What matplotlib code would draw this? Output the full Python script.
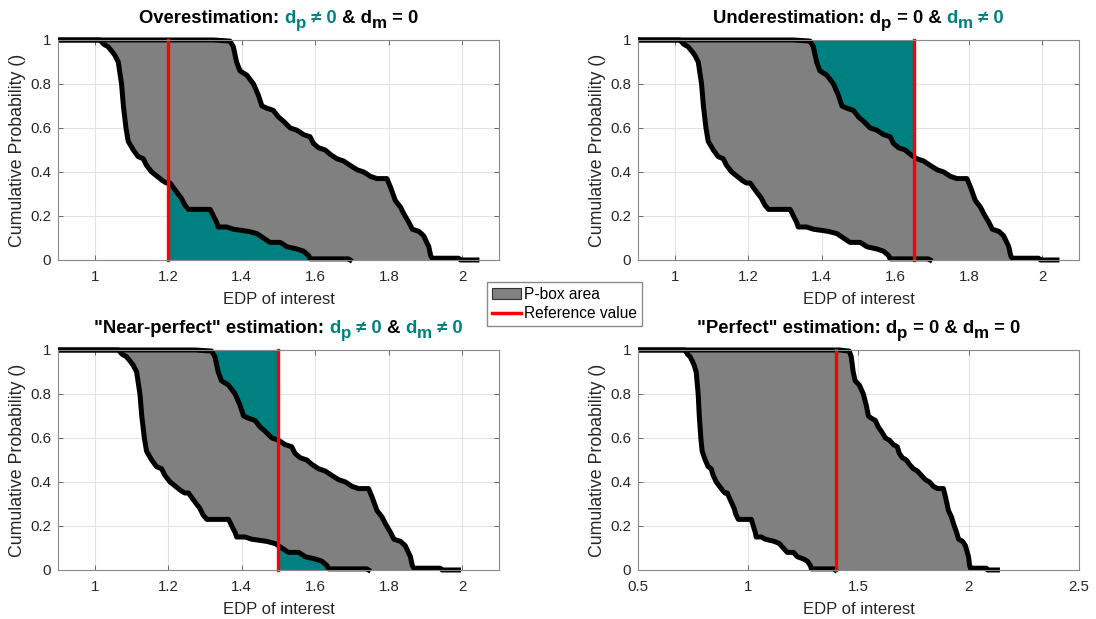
import matplotlib
matplotlib.use('Agg')
import matplotlib.pyplot as plt
from matplotlib.patches import Patch, Rectangle
from matplotlib.lines import Line2D
from matplotlib.ticker import FormatStrFormatter
import numpy as np

plt.rcParams['font.family'] = ['Liberation Sans', 'DejaVu Sans']

# P-box bounds (complementary CDFs)
left_x = [0.0, 1.014, 1.025, 1.036, 1.046, 1.055, 1.064, 1.073, 1.078, 1.085, 1.091,
          1.105, 1.118, 1.132, 1.141, 1.155, 1.170, 1.185, 1.195, 1.205, 1.218, 1.236,
          1.245, 1.255, 1.314, 1.323, 1.332, 1.336, 1.359, 1.377, 1.418, 1.441, 1.459,
          1.477, 1.505, 1.523, 1.550, 1.568, 1.582, 1.586, 1.690, 1.695]
left_y = [1.0, 1.0, 0.98, 0.97, 0.95, 0.93, 0.90, 0.80, 0.70, 0.60, 0.54,
          0.50, 0.47, 0.46, 0.43, 0.40, 0.38, 0.36, 0.35, 0.35, 0.32, 0.28,
          0.25, 0.23, 0.23, 0.20, 0.17, 0.15, 0.15, 0.14, 0.13, 0.12, 0.10,
          0.08, 0.08, 0.06, 0.05, 0.04, 0.02, 0.005, 0.005, 0.0]
right_x = [0.0, 1.323, 1.368, 1.377, 1.386, 1.395, 1.414, 1.432, 1.445, 1.455, 1.468,
           1.486, 1.500, 1.514, 1.532, 1.550, 1.568, 1.586, 1.595, 1.609, 1.627, 1.641,
           1.659, 1.677, 1.695, 1.714, 1.732, 1.750, 1.768, 1.795, 1.805, 1.818, 1.832,
           1.841, 1.855, 1.864, 1.882, 1.895, 1.909, 1.914, 1.918, 1.990, 1.995, 2.040]
right_y = [1.0, 1.0, 0.995, 0.97, 0.90, 0.86, 0.84, 0.80, 0.75, 0.70, 0.69,
           0.68, 0.65, 0.63, 0.60, 0.59, 0.57, 0.56, 0.53, 0.51, 0.50, 0.48,
           0.46, 0.45, 0.43, 0.41, 0.40, 0.38, 0.37, 0.37, 0.33, 0.27, 0.24,
           0.21, 0.17, 0.14, 0.13, 0.11, 0.06, 0.02, 0.008, 0.008, 0.0, 0.0]

# per panel: shift of each bound, reference value, axis range
left_shift = [0.0, 0.0, 0.05, -0.30]
right_shift = [0.0, 0.0, -0.05, 0.09]
ref_value = [1.20, 1.65, 1.50, 1.40]
x_limits = [(0.9, 2.1), (0.9, 2.1), (0.9, 2.1), (0.5, 2.5)]
x_ticks = [[1, 1.2, 1.4, 1.6, 1.8, 2]] * 3 + [[0.5, 1, 1.5, 2, 2.5]]
teal_below = [True, False, True, False]
teal_above = [False, True, True, False]

GREY = '#808080'
TEAL = '#008080'
K = 'black'
titles = [
    [("Overestimation: ", K, 0), ("d", TEAL, 0), ("p", TEAL, 1), (" \u2260 0", TEAL, 0),
     (" & d", K, 0), ("m", K, 1), (" = 0", K, 0)],
    [("Underestimation: d", K, 0), ("p", K, 1), (" = 0 & ", K, 0), ("d", TEAL, 0),
     ("m", TEAL, 1), (" \u2260 0", TEAL, 0)],
    [('"Near-perfect" estimation: ', K, 0), ("d", TEAL, 0), ("p", TEAL, 1),
     (" \u2260 0", TEAL, 0), (" & ", K, 0), ("d", TEAL, 0), ("m", TEAL, 1),
     (" \u2260 0", TEAL, 0)],
    [('"Perfect" estimation: d', K, 0), ("p", K, 1), (" = 0 & d", K, 0), ("m", K, 1),
     (" = 0", K, 0)],
]

positions = [[0.0529, 0.5800, 0.4024, 0.3554], [0.5821, 0.5800, 0.4024, 0.3554],
             [0.0529, 0.0792, 0.4024, 0.3554], [0.5821, 0.0792, 0.4024, 0.3554]]

fig = plt.figure(figsize=(10.96, 6.19), dpi=100)
renderer = fig.canvas.get_renderer()


def piece_title(ax, parts, size=13.3):
    texts = []
    for s, c, sub in parts:
        t = ax.text(0, 0, s, color=c, fontsize=size * (0.92 if sub else 1.0),
                    fontweight='bold', ha='left', va='baseline', transform=ax.transAxes)
        texts.append((t, sub))
    widths = [t.get_window_extent(renderer).width for t, _ in texts]
    box = ax.get_window_extent(renderer)
    x = box.x0 + box.width / 2 - sum(widths) / 2
    for (t, sub), w in zip(texts, widths):
        dy = -5 if sub else 0
        t.set_position(((x - box.x0) / box.width, 1 + (17 + dy) / box.height))
        x += w


for i in range(4):
    ax = fig.add_axes(positions[i])
    xl = np.array(left_x) + left_shift[i]
    yl = np.array(left_y)
    xr = np.array(right_x) + right_shift[i]
    yr = np.array(right_y)
    r = ref_value[i]

    # grey p-box area
    px = np.concatenate([xl, xr[::-1]])
    py = np.concatenate([yl, yr[::-1]])
    ax.fill(px, py, color=GREY, lw=0, zorder=2)

    if teal_below[i]:
        m = xl > r
        tx = np.concatenate([[r, r], xl[m]])
        ty = np.concatenate([[0, np.interp(r, xl, yl)], yl[m]])
        ax.fill(tx, ty, color=TEAL, lw=0, zorder=3)
    if teal_above[i]:
        m = xr < r
        tx = np.concatenate([xr[m], [r, r]])
        ty = np.concatenate([yr[m], [np.interp(r, xr, yr), 1]])
        ax.fill(tx, ty, color=TEAL, lw=0, zorder=3)

    clip = Rectangle((0, -0.05), 1, 1.1, transform=ax.transAxes)
    for x, y in [(xl, yl), (xr, yr)]:
        ln, = ax.plot(x, y, color='black', lw=3.6, zorder=4)
        ln.set_clip_path(clip)
    rl, = ax.plot([r, r], [0, 1], color='#ff0000', lw=2.4, zorder=5)
    rl.set_clip_path(clip)

    ax.set_xlim(*x_limits[i])
    ax.set_ylim(0, 1)
    ax.set_xticks(x_ticks[i])
    ax.set_yticks([0, 0.2, 0.4, 0.6, 0.8, 1])
    ax.xaxis.set_major_formatter(FormatStrFormatter('%g'))
    ax.yaxis.set_major_formatter(FormatStrFormatter('%g'))
    ax.tick_params(direction='in', length=3.5, width=0.6, color='#555555',
                   top=True, right=True, labelsize=10.8, labelcolor='#262626')
    ax.tick_params(axis='x', pad=7)
    ax.tick_params(axis='y', pad=5)
    ax.grid(True, color='#e3e3e3', lw=0.8, zorder=0)
    ax.set_axisbelow(True)
    for sp in ax.spines.values():
        sp.set_color('#8a8a8a')
        sp.set_linewidth(0.8)
        sp.set_zorder(6)
    ax.set_xlabel('EDP of interest', fontsize=12, color='#262626', labelpad=6)
    ax.set_ylabel('Cumulative Probability ()', fontsize=12.8, color='#262626', labelpad=3)
    piece_title(ax, titles[i])

handles = [Patch(facecolor=GREY, edgecolor='#333333', lw=0.8),
           Line2D([0], [0], color='#ff0000', lw=2.5)]
fig.legend(handles, ['P-box area', 'Reference value'], loc='upper left',
           bbox_to_anchor=(0.4443, 0.5444), borderaxespad=0, fontsize=11.2,
           frameon=True, fancybox=False, edgecolor='#8a8a8a', framealpha=1,
           handlelength=1.9, handletextpad=0.2, borderpad=0.3, labelspacing=0.3)

fig.savefig('out.png', dpi=100)
